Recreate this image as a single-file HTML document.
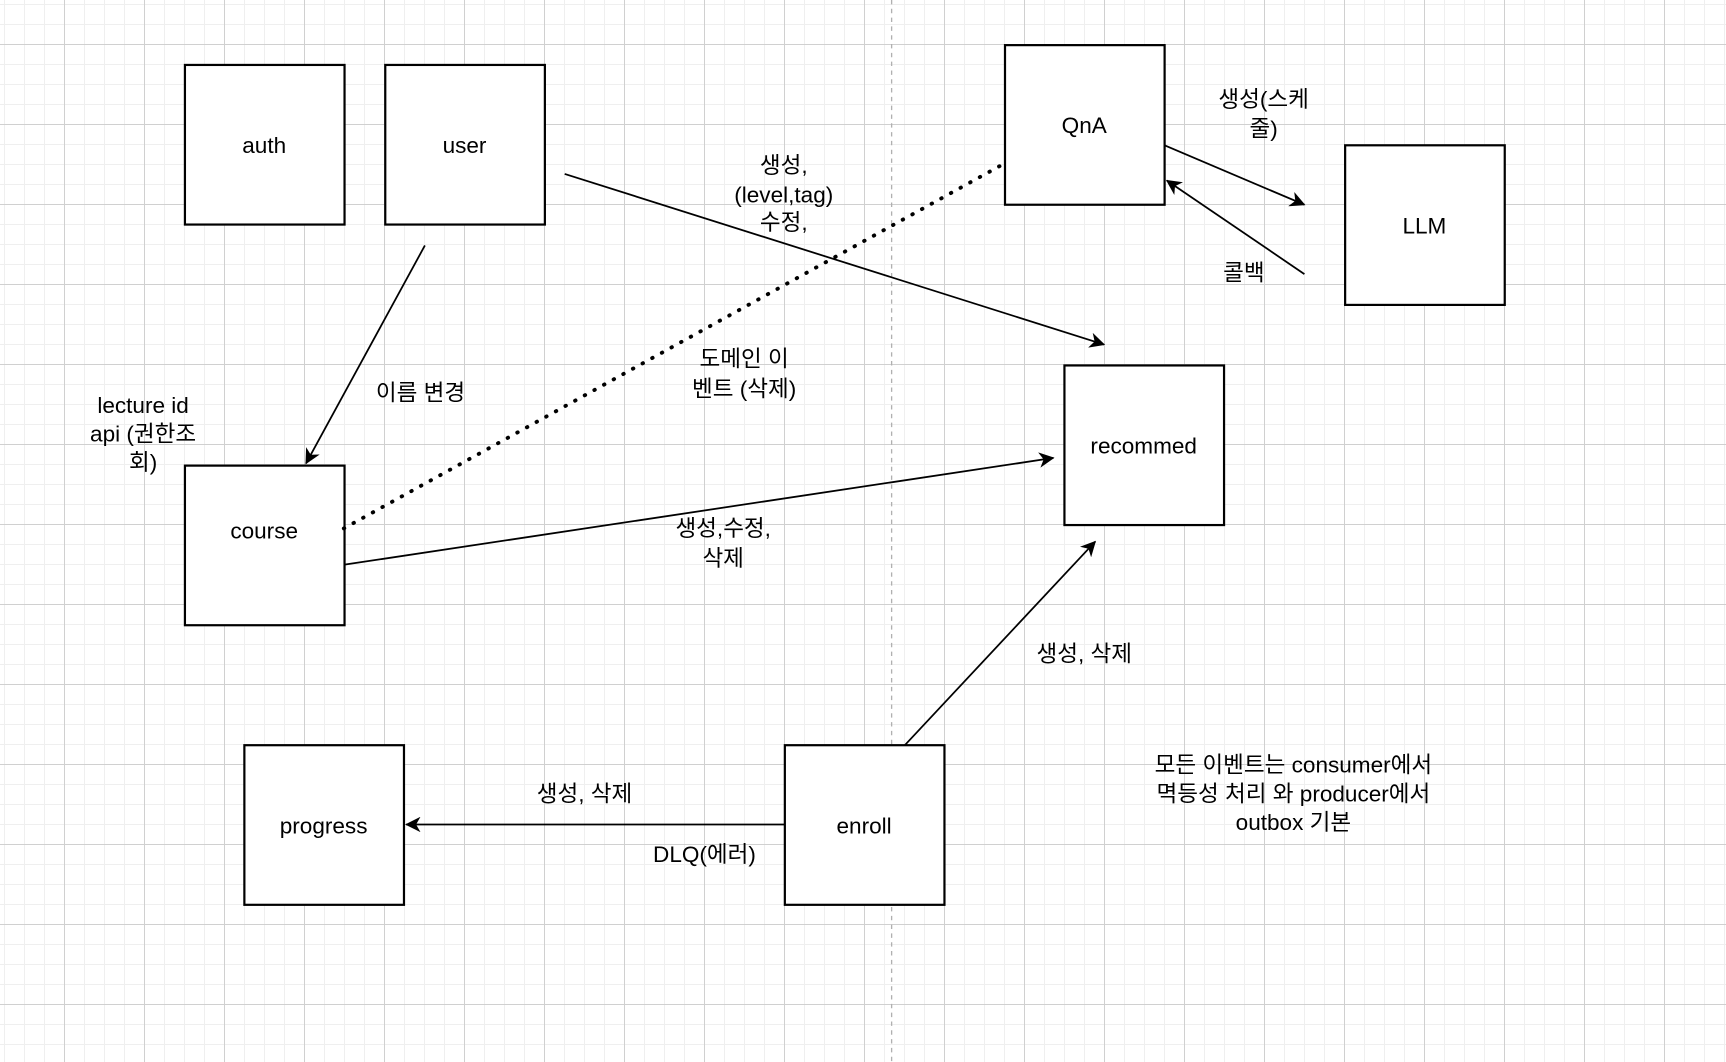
<!DOCTYPE html>
<html><head><meta charset="utf-8"><style>
html,body{margin:0;padding:0}
body{width:1726px;height:1062px;overflow:hidden;background-color:#fff;
background-image:
linear-gradient(to right,#d0d0d0 1px,transparent 1px),
linear-gradient(to bottom,#d0d0d0 1px,transparent 1px),
linear-gradient(to right,#efefef 1px,transparent 1px),
linear-gradient(to bottom,#efefef 1px,transparent 1px);
background-size:80px 80px,80px 80px,20px 20px,20px 20px;
background-position:64px 0,0 44px,4px 0,0 4px;}
svg{position:absolute;left:0;top:0}
text{font-family:"Liberation Sans","Noto Sans CJK KR",sans-serif;font-size:20.5px;fill:#000;text-anchor:middle}
</style></head><body>
<svg width="1726" height="1062" viewBox="0 0 1568 964.8" preserveAspectRatio="none">
<defs><marker id="a" markerWidth="16" markerHeight="14" refX="13" refY="7" orient="auto" markerUnits="userSpaceOnUse"><path d="M0,0 L14,7 L0,14 L4,7 Z" fill="#000"/></marker></defs>
<line x1="810" y1="0" x2="810" y2="965" stroke="#b0b0b0" stroke-width="1.2" stroke-dasharray="4,4"/>
<g fill="#fff" stroke="#000" stroke-width="2">
<rect x="168" y="59" width="145" height="145"/>
<rect x="350" y="59" width="145" height="145"/>
<rect x="168" y="423" width="145" height="145"/>
<rect x="222" y="677" width="145" height="145"/>
<rect x="713" y="677" width="145" height="145"/>
<rect x="913" y="41" width="145" height="145"/>
<rect x="1222" y="132" width="145" height="145"/>
<rect x="967" y="332" width="145" height="145"/>
</g>
<g stroke="#000" stroke-width="1.6" fill="none">
<line x1="513" y1="158" x2="1003" y2="313" marker-end="url(#a)"/>
<line x1="386" y1="223" x2="278" y2="421" marker-end="url(#a)"/>
<line x1="908" y1="151" x2="307" y2="483" stroke-width="3.5" stroke-dasharray="0.5,9.5" stroke-linecap="round"/>
<line x1="313" y1="513" x2="957" y2="416" marker-end="url(#a)"/>
<line x1="1058" y1="132" x2="1185" y2="186" marker-end="url(#a)"/>
<line x1="1185" y1="249" x2="1060" y2="164" marker-end="url(#a)"/>
<line x1="822" y1="677" x2="995" y2="492" marker-end="url(#a)"/>
<line x1="713" y1="749" x2="369" y2="749" marker-end="url(#a)"/>
</g>
<text x="240" y="139">auth</text>
<text x="422" y="139">user</text>
<text x="240" y="489">course</text>
<text x="294" y="757">progress</text>
<text x="785" y="757">enroll</text>
<text x="985" y="121">QnA</text>
<text x="1294" y="212">LLM</text>
<text x="1039" y="412">recommed</text>
<text x="712" y="157">생성,</text><text x="712" y="184">(level,tag)</text><text x="712" y="209">수정,</text>
<text x="382" y="364">이름 변경</text>
<text x="130" y="375">lecture id</text><text x="130" y="401">api (권한조</text><text x="130" y="427">회)</text>
<text x="676" y="333">도메인 이</text><text x="676" y="360">벤트 (삭제)</text>
<text x="657" y="487">생성,수정,</text><text x="657" y="514">삭제</text>
<text x="1148" y="97">생성(스케</text><text x="1148" y="124">줄)</text>
<text x="1130" y="255">콜백</text>
<text x="985" y="601">생성, 삭제</text>
<text x="531" y="728">생성, 삭제</text>
<text x="640" y="783">DLQ(에러)</text>
<text x="1175" y="702">모든 이벤트는 consumer에서</text>
<text x="1175" y="728">멱등성 처리 와 producer에서</text>
<text x="1175" y="754">outbox 기본</text>
</svg>
</body></html>
